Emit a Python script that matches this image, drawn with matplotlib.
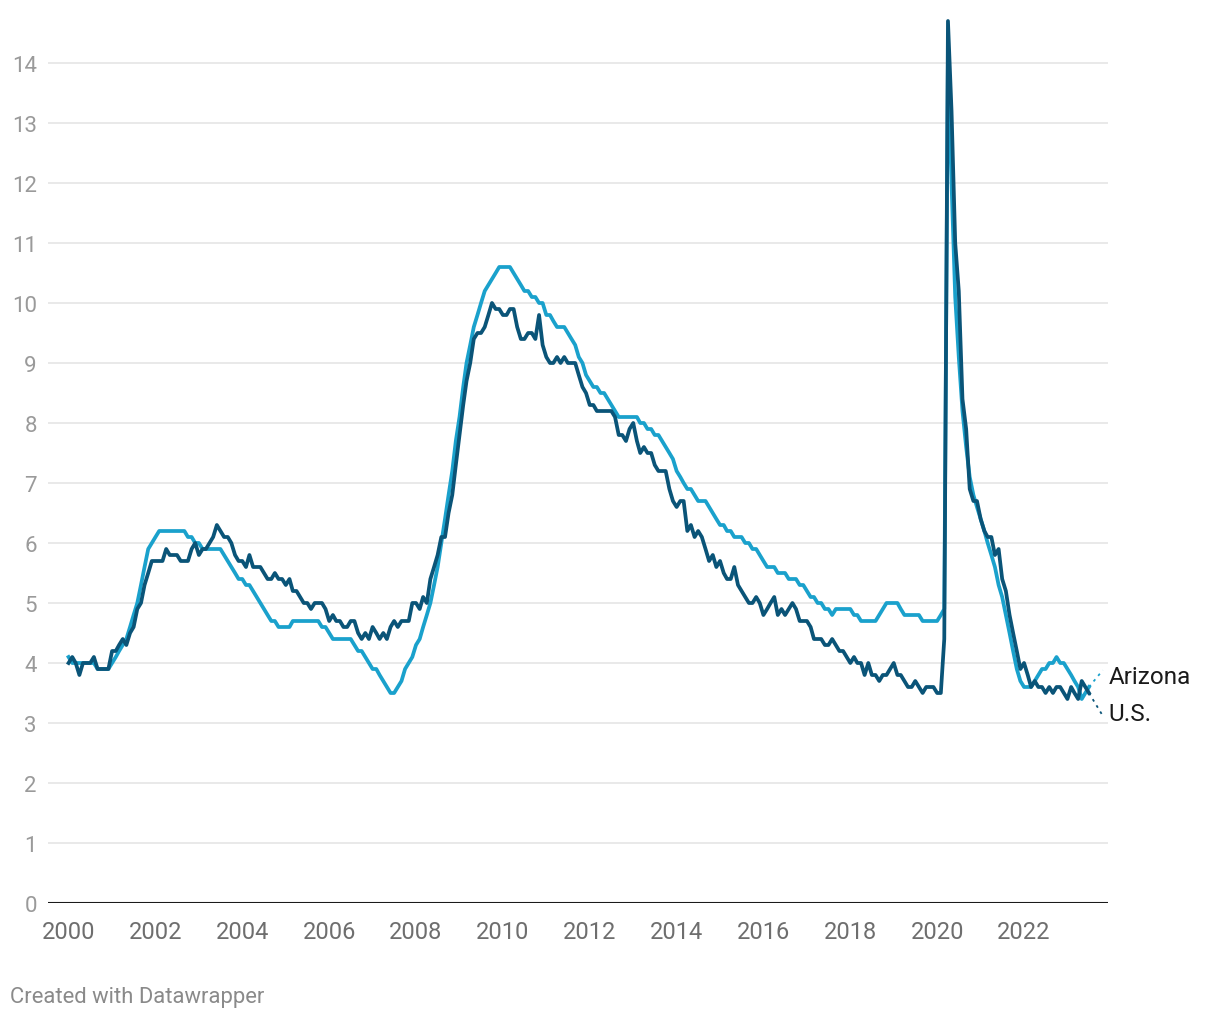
import matplotlib
matplotlib.use("Agg")
import matplotlib.pyplot as plt
import pandas as pd

plt.rcParams['font.family'] = ['Roboto', 'DejaVu Sans']

start_month = "2000-01"

us_rate = [
    4.0, 4.1, 4.0, 3.8, 4.0, 4.0, 4.0, 4.1, 3.9, 3.9, 3.9, 3.9,
    4.2, 4.2, 4.3, 4.4, 4.3, 4.5, 4.6, 4.9, 5.0, 5.3, 5.5, 5.7,
    5.7, 5.7, 5.7, 5.9, 5.8, 5.8, 5.8, 5.7, 5.7, 5.7, 5.9, 6.0,
    5.8, 5.9, 5.9, 6.0, 6.1, 6.3, 6.2, 6.1, 6.1, 6.0, 5.8, 5.7,
    5.7, 5.6, 5.8, 5.6, 5.6, 5.6, 5.5, 5.4, 5.4, 5.5, 5.4, 5.4,
    5.3, 5.4, 5.2, 5.2, 5.1, 5.0, 5.0, 4.9, 5.0, 5.0, 5.0, 4.9,
    4.7, 4.8, 4.7, 4.7, 4.6, 4.6, 4.7, 4.7, 4.5, 4.4, 4.5, 4.4,
    4.6, 4.5, 4.4, 4.5, 4.4, 4.6, 4.7, 4.6, 4.7, 4.7, 4.7, 5.0,
    5.0, 4.9, 5.1, 5.0, 5.4, 5.6, 5.8, 6.1, 6.1, 6.5, 6.8, 7.3,
    7.8, 8.3, 8.7, 9.0, 9.4, 9.5, 9.5, 9.6, 9.8, 10.0, 9.9, 9.9,
    9.8, 9.8, 9.9, 9.9, 9.6, 9.4, 9.4, 9.5, 9.5, 9.4, 9.8, 9.3,
    9.1, 9.0, 9.0, 9.1, 9.0, 9.1, 9.0, 9.0, 9.0, 8.8, 8.6, 8.5,
    8.3, 8.3, 8.2, 8.2, 8.2, 8.2, 8.2, 8.1, 7.8, 7.8, 7.7, 7.9,
    8.0, 7.7, 7.5, 7.6, 7.5, 7.5, 7.3, 7.2, 7.2, 7.2, 6.9, 6.7,
    6.6, 6.7, 6.7, 6.2, 6.3, 6.1, 6.2, 6.1, 5.9, 5.7, 5.8, 5.6,
    5.7, 5.5, 5.4, 5.4, 5.6, 5.3, 5.2, 5.1, 5.0, 5.0, 5.1, 5.0,
    4.8, 4.9, 5.0, 5.1, 4.8, 4.9, 4.8, 4.9, 5.0, 4.9, 4.7, 4.7,
    4.7, 4.6, 4.4, 4.4, 4.4, 4.3, 4.3, 4.4, 4.3, 4.2, 4.2, 4.1,
    4.0, 4.1, 4.0, 4.0, 3.8, 4.0, 3.8, 3.8, 3.7, 3.8, 3.8, 3.9,
    4.0, 3.8, 3.8, 3.7, 3.6, 3.6, 3.7, 3.6, 3.5, 3.6, 3.6, 3.6,
    3.5, 3.5, 4.4, 14.7, 13.2, 11.0, 10.2, 8.4, 7.9, 6.9, 6.7, 6.7,
    6.4, 6.2, 6.1, 6.1, 5.8, 5.9, 5.4, 5.2, 4.8, 4.5, 4.2, 3.9,
    4.0, 3.8, 3.6, 3.7, 3.6, 3.6, 3.5, 3.6, 3.5, 3.6, 3.6, 3.5,
    3.4, 3.6, 3.5, 3.4, 3.7, 3.6, 3.5,
]

az_rate = [
    4.1, 4.0, 4.0, 4.0, 4.0, 4.0, 4.0, 4.0, 3.9, 3.9, 3.9, 3.9,
    4.0, 4.1, 4.2, 4.3, 4.4, 4.6, 4.8, 5.0, 5.3, 5.6, 5.9, 6.0,
    6.1, 6.2, 6.2, 6.2, 6.2, 6.2, 6.2, 6.2, 6.2, 6.1, 6.1, 6.0,
    6.0, 5.9, 5.9, 5.9, 5.9, 5.9, 5.9, 5.8, 5.7, 5.6, 5.5, 5.4,
    5.4, 5.3, 5.3, 5.2, 5.1, 5.0, 4.9, 4.8, 4.7, 4.7, 4.6, 4.6,
    4.6, 4.6, 4.7, 4.7, 4.7, 4.7, 4.7, 4.7, 4.7, 4.7, 4.6, 4.6,
    4.5, 4.4, 4.4, 4.4, 4.4, 4.4, 4.4, 4.3, 4.2, 4.2, 4.1, 4.0,
    3.9, 3.9, 3.8, 3.7, 3.6, 3.5, 3.5, 3.6, 3.7, 3.9, 4.0, 4.1,
    4.3, 4.4, 4.6, 4.8, 5.0, 5.3, 5.6, 6.0, 6.4, 6.8, 7.2, 7.7,
    8.1, 8.6, 9.0, 9.3, 9.6, 9.8, 10.0, 10.2, 10.3, 10.4, 10.5, 10.6,
    10.6, 10.6, 10.6, 10.5, 10.4, 10.3, 10.2, 10.2, 10.1, 10.1, 10.0, 10.0,
    9.8, 9.8, 9.7, 9.6, 9.6, 9.6, 9.5, 9.4, 9.3, 9.1, 9.0, 8.8,
    8.7, 8.6, 8.6, 8.5, 8.5, 8.4, 8.3, 8.2, 8.1, 8.1, 8.1, 8.1,
    8.1, 8.1, 8.0, 8.0, 7.9, 7.9, 7.8, 7.8, 7.7, 7.6, 7.5, 7.4,
    7.2, 7.1, 7.0, 6.9, 6.9, 6.8, 6.7, 6.7, 6.7, 6.6, 6.5, 6.4,
    6.3, 6.3, 6.2, 6.2, 6.1, 6.1, 6.1, 6.0, 6.0, 5.9, 5.9, 5.8,
    5.7, 5.6, 5.6, 5.6, 5.5, 5.5, 5.5, 5.4, 5.4, 5.4, 5.3, 5.3,
    5.2, 5.1, 5.1, 5.0, 5.0, 4.9, 4.9, 4.8, 4.9, 4.9, 4.9, 4.9,
    4.9, 4.8, 4.8, 4.7, 4.7, 4.7, 4.7, 4.7, 4.8, 4.9, 5.0, 5.0,
    5.0, 5.0, 4.9, 4.8, 4.8, 4.8, 4.8, 4.8, 4.7, 4.7, 4.7, 4.7,
    4.7, 4.8, 4.9, 14.2, 12.0, 10.1, 9.1, 8.2, 7.6, 7.1, 6.8, 6.6,
    6.4, 6.2, 6.0, 5.8, 5.6, 5.3, 5.1, 4.8, 4.5, 4.2, 3.9, 3.7,
    3.6, 3.6, 3.6, 3.7, 3.8, 3.9, 3.9, 4.0, 4.0, 4.1, 4.0, 4.0,
    3.9, 3.8, 3.7, 3.6, 3.4, 3.5, 3.6,
]

series_names = ["Arizona", "U.S."]
y_ticks = list(range(0, 15))
x_tick_years = list(range(2000, 2023, 2))

AZ_COLOR = "#1aa1cc"
US_COLOR = "#0a5478"

dates = pd.date_range(start_month, periods=len(us_rate), freq="MS")

fig = plt.figure(figsize=(12.2, 10.2), dpi=100)
ax = fig.add_axes([48 / 1220, 116 / 1020, 1060 / 1220, (904 - 19) / 1020])

ax.plot(dates, az_rate, color=AZ_COLOR, lw=2.7, solid_joinstyle="round", zorder=3)
ax.plot(dates, us_rate, color=US_COLOR, lw=2.7, solid_joinstyle="round", zorder=4)

ax.set_ylim(0, 14.75)
ax.set_xlim(pd.Timestamp("1999-07-12"), pd.Timestamp("2023-12-08"))

ax.set_yticks(y_ticks)
ax.set_yticklabels([str(v) for v in y_ticks], fontsize=16, color="#9a9a9a")
ax.set_xticks([pd.Timestamp(f"{y}-01-01") for y in x_tick_years])
ax.set_xticklabels([str(y) for y in x_tick_years], fontsize=17, color="#6e6e6e")
ax.tick_params(axis="y", length=0, pad=8)
ax.tick_params(axis="x", length=0, pad=12)

for v in y_ticks[1:]:
    ax.axhline(v, color="#e3e3e3", lw=1.1, zorder=1)
ax.axhline(0, color="#1a1a1a", lw=1.5, zorder=5)

for s in ax.spines.values():
    s.set_visible(False)

# end labels with dotted connectors
end = dates[-1]
lab_x = pd.Timestamp("2023-12-10")
conn_x = pd.Timestamp("2023-10-25")
ax.plot([end, conn_x], [az_rate[-1], 3.88], color=AZ_COLOR, lw=1.3, ls=(0, (1.5, 2.5)), clip_on=False, zorder=2)
ax.plot([end, conn_x], [us_rate[-1], 3.12], color=US_COLOR, lw=1.3, ls=(0, (1.5, 2.5)), clip_on=False, zorder=2)
ax.text(lab_x, 3.78, series_names[0], fontsize=17.5, color="#1a1a1a", va="center", ha="left", clip_on=False)
ax.text(lab_x, 3.15, series_names[1], fontsize=17.5, color="#1a1a1a", va="center", ha="left", clip_on=False)

fig.text(10 / 1220, 1 - 998 / 1020, "Created with Datawrapper", fontsize=15.8, color="#8a8a8a", va="center", ha="left")

fig.savefig("out.png", dpi=100, facecolor="white")
